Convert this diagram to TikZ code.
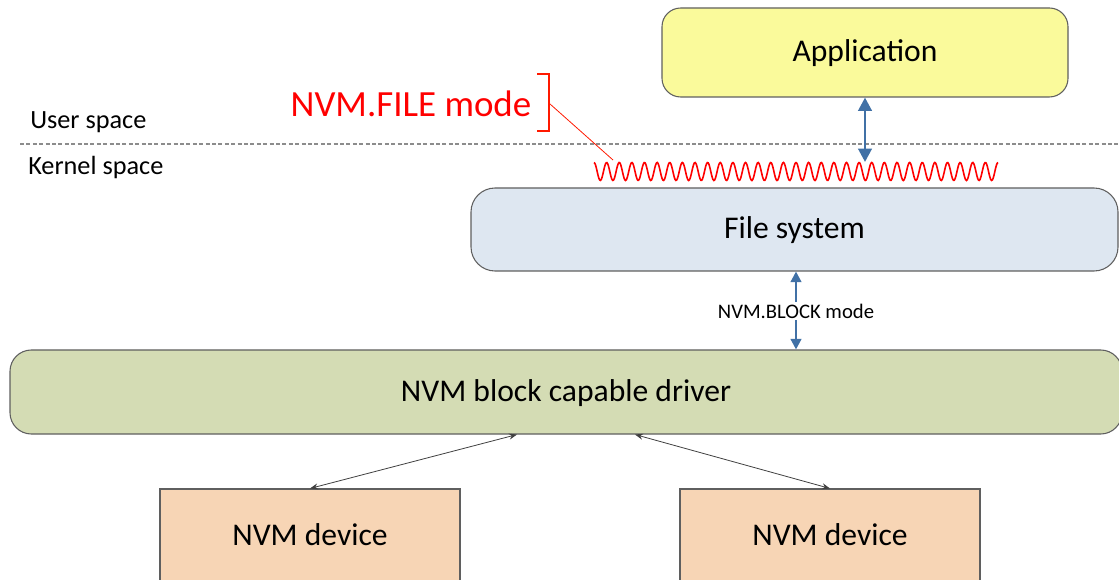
\documentclass[tikz,border=0pt]{standalone}
\usepackage{fontspec}
\setmainfont{Carlito}
\usetikzlibrary{arrows.meta}
\definecolor{appyellow}{RGB}{250,250,155}
\definecolor{fsblue}{RGB}{222,231,241}
\definecolor{drvgreen}{RGB}{212,220,180}
\definecolor{devpeach}{RGB}{247,213,181}
\definecolor{boxline}{RGB}{95,95,95}
\definecolor{ioblue}{RGB}{65,113,166}
\definecolor{filered}{RGB}{255,0,0}
\tikzset{layer/.style={draw=boxline, line width=0.8pt, inner sep=0pt, text depth=0.5ex, font=\fontsize{23.7}{28}\selectfont}}
\tikzset{device/.style={layer, fill=devpeach, minimum width=225pt, minimum height=70.5pt}}
\tikzset{spacelabel/.style={anchor=west, inner sep=0pt, font=\fontsize{19.7}{24}\selectfont}}
\tikzset{bigio/.style={ioblue, line width=2.2pt, {Triangle[width=10pt,length=10pt]}-{Triangle[width=10pt,length=10pt]}}}
\tikzset{blockio/.style={ioblue, line width=1.8pt, -{Triangle[width=8pt,length=8pt]}}}
\tikzset{devio/.style={black!75, line width=0.6pt, {Stealth[length=6pt,width=4.5pt]}-{Stealth[length=6pt,width=4.5pt]}}}

\begin{document}
\begin{tikzpicture}[x=0.75pt, y=-0.75pt]
        \clip (0,0) rectangle (1119,580);
        % layers
        \node[layer, fill=appyellow, rounded corners=14pt, minimum width=304.5pt, minimum height=66.75pt] (app) at (865,52.5) {Application};
        \node[layer, fill=fsblue, rounded corners=18pt, minimum width=485.25pt, minimum height=62.25pt] (fs) at (794.5,229.5) {File system};
        \node[layer, fill=drvgreen, rounded corners=16pt, minimum width=834pt, minimum height=63pt] (drv) at (566,392) {NVM block capable driver};
        \node[device] (dev1) at (310,536) {NVM device};
        \node[device] (dev2) at (830,536) {NVM device};

        % user / kernel boundary
        \draw[black!45, dash pattern=on 3pt off 1.8pt, line width=0.8pt] (20,144) -- (1119,144);
        \node[spacelabel] (user) at (30,122) {User space};
        \node[spacelabel] (kernel) at (28,168) {Kernel space};

        % NVM.FILE mode
        \draw[filered, line width=1.2pt] plot[domain=0:404, samples=500] ({594+\x}, {171.5-9*cos(28.515*\x)});
        \coordinate (wavetop) at (594,162);
        \coordinate (leaderend) at (613,160);
        \node[text=filered, inner sep=0pt, font=\fontsize{27.7}{32}\selectfont] (filemode) at (411,104) {NVM.FILE mode};
        \draw[red!80!orange, line width=0.8pt] (537,74) -- (549,74) -- (549,131) -- (537,131);
        \draw[red!80!orange, line width=0.6pt] (550,104) -- (leaderend);
        \draw[bigio] (app.south) -- (app.south |- wavetop);

        % NVM.BLOCK mode
        \node[inner sep=1pt, font=\fontsize{15.5}{18}\selectfont] (blockmode) at (796,311) {NVM.BLOCK mode};
        \draw[blockio] (blockmode.north) -- (blockmode.north |- fs.south);
        \draw[blockio] (blockmode.south) -- (blockmode.south |- drv.north);

        % devices
        \draw[devio] ([xshift=-36.75pt]drv.south) -- (dev1.north);
        \draw[devio] ([xshift=51.75pt]drv.south) -- (dev2.north);
\end{tikzpicture}
\end{document}
